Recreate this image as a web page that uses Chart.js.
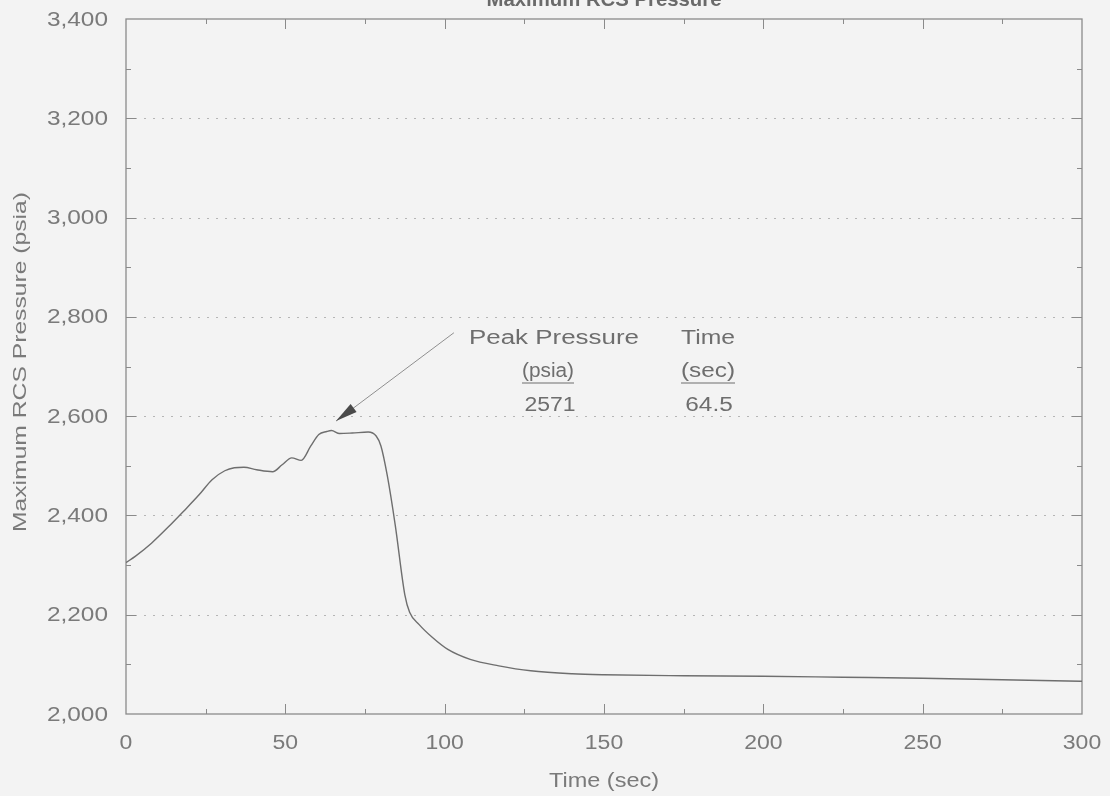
<!DOCTYPE html>
<html>
<head>
<meta charset="utf-8">
<script src="https://cdn.jsdelivr.net/npm/chart.js@4"></script>
<style>
  html, body { margin: 0; padding: 0; background: #f3f3f3; }
  #wrap { width: 1110px; height: 796px; position: relative; }
</style>
</head>
<body>
<div id="wrap"><canvas id="c" width="1110" height="796"></canvas></div>
<script>
// Maximum RCS pressure transient
const timeSec = [0, 3, 8, 13, 18, 23, 27, 31, 34, 37, 41, 46, 49, 52, 55, 58, 60.5, 63, 64.5, 67, 71, 76, 78.5, 80, 82, 84.5, 87.5, 89, 92, 96, 101, 108, 117, 127, 140, 150, 175, 200, 225, 250, 275, 300];
const pressurePsia = [2305, 2318, 2344, 2375, 2408, 2442, 2472, 2490, 2496, 2497, 2492, 2488, 2502, 2516, 2511, 2540, 2563, 2569, 2571, 2565, 2566, 2568, 2560, 2540, 2480, 2380, 2240, 2205, 2180, 2155, 2130, 2110, 2097, 2087, 2081, 2079, 2077, 2076, 2074, 2072, 2069, 2066];

const peakPressure = 2571;
const peakTime = 64.5;

const xTicks = [0, 50, 100, 150, 200, 250, 300];
const yTicks = [2000, 2200, 2400, 2600, 2800, 3000, 3200, 3400];

const chartTitle = 'Maximum RCS Pressure';
const xTitle = 'Time (sec)';
const yTitle = 'Maximum RCS Pressure (psia)';

const FONT = '"Liberation Sans", Arial, sans-serif';
const TEXT = '#7a7a7a';
const AXIS = '#8a8a8a';

const points = timeSec.map((t, i) => ({ x: t, y: pressurePsia[i] }));

// Text in the wide face of the plot: drawn at a given size and stretched
// horizontally, either by a factor or to a given width
function wideText(ctx, txt, cx, cy, size, opts = {}) {
  ctx.save();
  ctx.font = (opts.bold ? 'bold ' : '') + size + 'px ' + FONT;
  ctx.fillStyle = opts.color || TEXT;
  ctx.textBaseline = opts.baseline || 'middle';
  const natural = ctx.measureText(txt).width;
  const s = opts.width ? opts.width / natural : (opts.scale || 1);
  ctx.translate(cx, cy);
  if (opts.rotate) ctx.rotate(opts.rotate);
  ctx.scale(s, 1);
  const align = opts.align || 'center';
  ctx.textAlign = align;
  ctx.fillText(txt, 0, 0);
  if (opts.underline) {
    const w = natural;
    const x0 = align === 'center' ? -w / 2 : (align === 'right' ? -w : 0);
    ctx.strokeStyle = opts.color || TEXT;
    ctx.lineWidth = 1;
    ctx.beginPath(); ctx.moveTo(x0, opts.underline); ctx.lineTo(x0 + w, opts.underline); ctx.stroke();
  }
  ctx.restore();
}

const decor = {
  id: 'decor',
  beforeDatasetsDraw(chart) {
    const { ctx, chartArea: a, scales: { x, y } } = chart;
    ctx.save();
    // dotted horizontal grid
    ctx.strokeStyle = '#b5b5b5';
    ctx.lineWidth = 1;
    ctx.setLineDash([2, 7]);
    yTicks.slice(1, -1).forEach(v => {
      const py = Math.round(y.getPixelForValue(v)) + 0.5;
      ctx.beginPath(); ctx.moveTo(a.left, py); ctx.lineTo(a.right, py); ctx.stroke();
    });
    ctx.setLineDash([]);
    // frame
    ctx.strokeStyle = AXIS;
    ctx.lineWidth = 1.3;
    ctx.strokeRect(a.left, a.top, a.right - a.left, a.bottom - a.top);
    // inward x ticks every 25, taller at labelled values
    ctx.lineWidth = 1;
    for (let t = 25; t < 300; t += 25) {
      const px = Math.round(x.getPixelForValue(t)) + 0.5;
      const len = t % 50 === 0 ? 10 : 5;
      ctx.beginPath(); ctx.moveTo(px, a.bottom); ctx.lineTo(px, a.bottom - len); ctx.stroke();
      ctx.beginPath(); ctx.moveTo(px, a.top); ctx.lineTo(px, a.top + len); ctx.stroke();
    }
    // inward y ticks every 100
    for (let v = 2100; v < 3400; v += 100) {
      const py = Math.round(y.getPixelForValue(v)) + 0.5;
      const len = v % 200 === 0 ? 10 : 5;
      ctx.beginPath(); ctx.moveTo(a.left, py); ctx.lineTo(a.left + len, py); ctx.stroke();
      ctx.beginPath(); ctx.moveTo(a.right, py); ctx.lineTo(a.right - len, py); ctx.stroke();
    }
    ctx.restore();

    // tick labels
    yTicks.forEach(v => {
      wideText(ctx, v.toLocaleString('en-US'), a.left - 18, y.getPixelForValue(v) + 1, 20, { align: 'right', scale: 1.22 });
    });
    xTicks.forEach(v => {
      wideText(ctx, String(v), x.getPixelForValue(v), a.bottom + 29, 20, { scale: 1.15 });
    });
    // axis titles
    wideText(ctx, xTitle, (a.left + a.right) / 2, a.bottom + 67, 20, { width: 110 });
    wideText(ctx, yTitle, 21, 362, 19, { width: 340, rotate: -Math.PI / 2 });
  },
  afterDatasetsDraw(chart) {
    const { ctx, chartArea: a, scales: { x, y } } = chart;
    // title, clipped by the top edge of the page
    wideText(ctx, chartTitle, (a.left + a.right) / 2, 6, 20, { width: 235, bold: true, baseline: 'alphabetic', color: '#6a6a6a' });

    // leader arrow toward the peak
    ctx.save();
    const tx = x.getPixelForValue(peakTime + 1.4), ty = y.getPixelForValue(peakPressure + 19);
    const sx = x.getPixelForValue(102.9), sy = y.getPixelForValue(2768);
    const ang = Math.atan2(sy - ty, sx - tx);
    ctx.strokeStyle = '#8f8f8f';
    ctx.lineWidth = 1;
    ctx.beginPath(); ctx.moveTo(sx, sy); ctx.lineTo(tx, ty); ctx.stroke();
    const L = 22, W = 5;
    const bx = tx + Math.cos(ang) * L, by = ty + Math.sin(ang) * L;
    ctx.fillStyle = '#4a4a4a';
    ctx.beginPath();
    ctx.moveTo(tx, ty);
    ctx.lineTo(bx - Math.sin(ang) * W, by + Math.cos(ang) * W);
    ctx.lineTo(bx + Math.sin(ang) * W, by - Math.cos(ang) * W);
    ctx.closePath(); ctx.fill();
    ctx.restore();

    // peak table
    const col = '#6e6e6e';
    wideText(ctx, 'Peak Pressure', 554, 338, 20, { width: 170, color: col });
    wideText(ctx, 'Time', 708, 338, 20, { width: 54, color: col });
    wideText(ctx, '(psia)', 548, 371, 20, { width: 52, color: col, underline: 12 });
    wideText(ctx, '(sec)', 708, 371, 20, { width: 54, color: col, underline: 12 });
    wideText(ctx, String(peakPressure), 550, 405, 20, { scale: 1.15, color: col });
    wideText(ctx, String(peakTime), 709, 405, 20, { scale: 1.22, color: col });
  }
};

new Chart(document.getElementById('c'), {
  type: 'line',
  data: {
    datasets: [{
      data: points,
      borderColor: '#6e6e6e',
      borderWidth: 1.4,
      pointRadius: 0,
      tension: 0.3,
      cubicInterpolationMode: 'monotone',
      fill: false
    }]
  },
  options: {
    responsive: false,
    animation: false,
    devicePixelRatio: 1,
    layout: { padding: { top: 19, right: 28, left: 0, bottom: 0 } },
    plugins: { legend: { display: false }, tooltip: { enabled: false } },
    scales: {
      x: {
        type: 'linear', min: 0, max: 300,
        afterBuildTicks: s => { s.ticks = xTicks.map(v => ({ value: v })); },
        afterFit: s => { s.height = 82; },
        grid: { display: false, drawTicks: false },
        border: { display: false },
        ticks: { display: false },
        title: { display: false }
      },
      y: {
        type: 'linear', min: 2000, max: 3400,
        afterBuildTicks: s => { s.ticks = yTicks.map(v => ({ value: v })); },
        afterFit: s => { s.width = 126; },
        grid: { display: false, drawTicks: false },
        border: { display: false },
        ticks: { display: false },
        title: { display: false }
      }
    }
  },
  plugins: [decor]
});
</script>
</body>
</html>
